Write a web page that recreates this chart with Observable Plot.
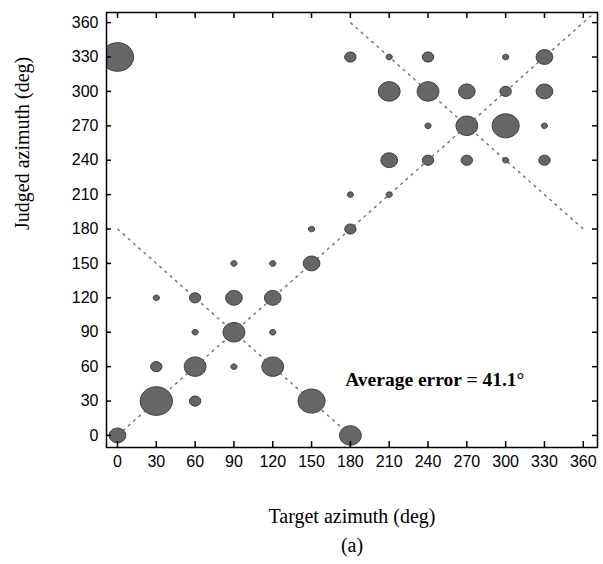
<!DOCTYPE html>
<html>
<head>
<meta charset="utf-8">
<script src="https://cdn.jsdelivr.net/npm/d3@7"></script>
<script src="https://cdn.jsdelivr.net/npm/@observablehq/plot@0.6"></script>
<style>
  html, body { margin: 0; padding: 0; background: #fff; }
</style>
</head>
<body>
<div id="chart"></div>
<script>
// Target azimuth (deg) of each response cell
const targets = [0, 0, 30, 30, 30, 60, 60, 60, 60, 90, 90, 90, 90, 120, 120, 120, 120, 150, 150, 150, 180, 180, 180, 180, 210, 210, 210, 210, 240, 240, 240, 240, 270, 270, 270, 300, 300, 300, 300, 330, 330, 330, 330];
// Judged azimuth (deg)
const judged = [0, 330, 30, 60, 120, 30, 60, 90, 120, 60, 90, 120, 150, 60, 90, 120, 150, 30, 150, 180, 0, 180, 210, 330, 210, 240, 300, 330, 240, 270, 300, 330, 240, 270, 300, 240, 270, 300, 330, 240, 270, 300, 330];
// Number of responses in each cell
const counts = [3, 6, 6, 2, 1, 2, 4, 1, 2, 1, 4, 3, 1, 4, 1, 3, 1, 5, 3, 1, 4, 2, 1, 2, 1, 3, 4, 1, 2, 1, 4, 2, 2, 4, 3, 1, 5, 2, 1, 2, 1, 3, 3];

const xTicks = [0, 30, 60, 90, 120, 150, 180, 210, 240, 270, 300, 330, 360];
const yTicks = [0, 30, 60, 90, 120, 150, 180, 210, 240, 270, 300, 330, 360];

// Reference lines (correct response and front/back reversal)
const refLines = [
  {x1: 0, y1: 0, x2: 380, y2: 380},
  {x1: 0, y1: 180, x2: 180, y2: 0},
  {x1: 180, y1: 360, x2: 360, y2: 180}
];

const annotation = [{x: 176, y: 49, text: "Average error = 41.1°"}];

const points = targets.map((t, i) => ({target: t, judged: judged[i], count: counts[i]}));

// Ellipse symbol (slightly flattened circles like the original)
const ellipse = {
  draw(ctx, size) {
    const r = Math.sqrt(size / Math.PI), rx = r, ry = r * 0.89, k = 0.5523;
    ctx.moveTo(rx, 0);
    ctx.bezierCurveTo(rx, ry * k, rx * k, ry, 0, ry);
    ctx.bezierCurveTo(-rx * k, ry, -rx, ry * k, -rx, 0);
    ctx.bezierCurveTo(-rx, -ry * k, -rx * k, -ry, 0, -ry);
    ctx.bezierCurveTo(rx * k, -ry, rx, -ry * k, rx, 0);
    ctx.closePath();
  }
};

const W = 603, H = 564;
const mL = 106, mR = 6, mT = 12, mB = 117;
const fw = W - mL - mR, fh = H - mT - mB;
const tickFont = "'Liberation Sans Narrow', 'Arial Narrow', 'Liberation Sans', Arial, sans-serif";
const serif = "'Liberation Serif', 'Times New Roman', serif";

const chart = Plot.plot({
  width: W,
  height: H,
  marginLeft: mL,
  marginRight: mR,
  marginTop: mT,
  marginBottom: mB,
  style: {background: "#fff", color: "#000"},
  x: {domain: [-8.5, 371]},
  y: {domain: [-10.5, 368.8]},
  r: {type: "linear", domain: [0, 6], range: [0.5, 16.1]},
  marks: [
    Plot.link(refLines, {x1: "x1", y1: "y1", x2: "x2", y2: "y2", stroke: "#777", strokeWidth: 1.5, strokeDasharray: "3,4", clip: true}),
    Plot.dot(points, {x: "target", y: "judged", r: "count", symbol: ellipse, fill: "#666", stroke: "#3c3c3c", strokeWidth: 1, clip: true}),
    Plot.text(annotation, {x: "x", y: "y", text: "text", textAnchor: "start", fontFamily: serif, fontWeight: "bold", fontSize: 19.5, fill: "#000"}),
    // inward ticks on all four sides
    Plot.tickX(xTicks, {x: d => d, insetTop: fh - 6, stroke: "#000", strokeWidth: 1.5}),
    Plot.tickX(xTicks, {x: d => d, insetBottom: fh - 6, stroke: "#000", strokeWidth: 1.5}),
    Plot.tickY(yTicks, {y: d => d, insetRight: fw - 5, stroke: "#000", strokeWidth: 1.5}),
    Plot.tickY(yTicks, {y: d => d, insetLeft: fw - 5, stroke: "#000", strokeWidth: 1.5}),
    Plot.axisX({ticks: xTicks, tickSize: 0, tickPadding: 8, label: null, fontFamily: tickFont, fontSize: 16}),
    Plot.axisY({ticks: yTicks, tickSize: 0, tickPadding: 8, label: null, fontFamily: tickFont, fontSize: 16}),
    Plot.frame({stroke: "#000", strokeWidth: 1.5}),
    Plot.text(["Target azimuth (deg)"], {frameAnchor: "bottom", dy: 75, fontFamily: serif, fontSize: 20, fill: "#000"}),
    Plot.text(["(a)"], {frameAnchor: "bottom", dy: 104, fontFamily: serif, fontSize: 20, fill: "#000"}),
    Plot.text(["Judged azimuth (deg)"], {frameAnchor: "left", dx: -84, rotate: -90, fontFamily: serif, fontSize: 20, fill: "#000"})
  ]
});
document.getElementById("chart").appendChild(chart);
</script>
</body>
</html>
